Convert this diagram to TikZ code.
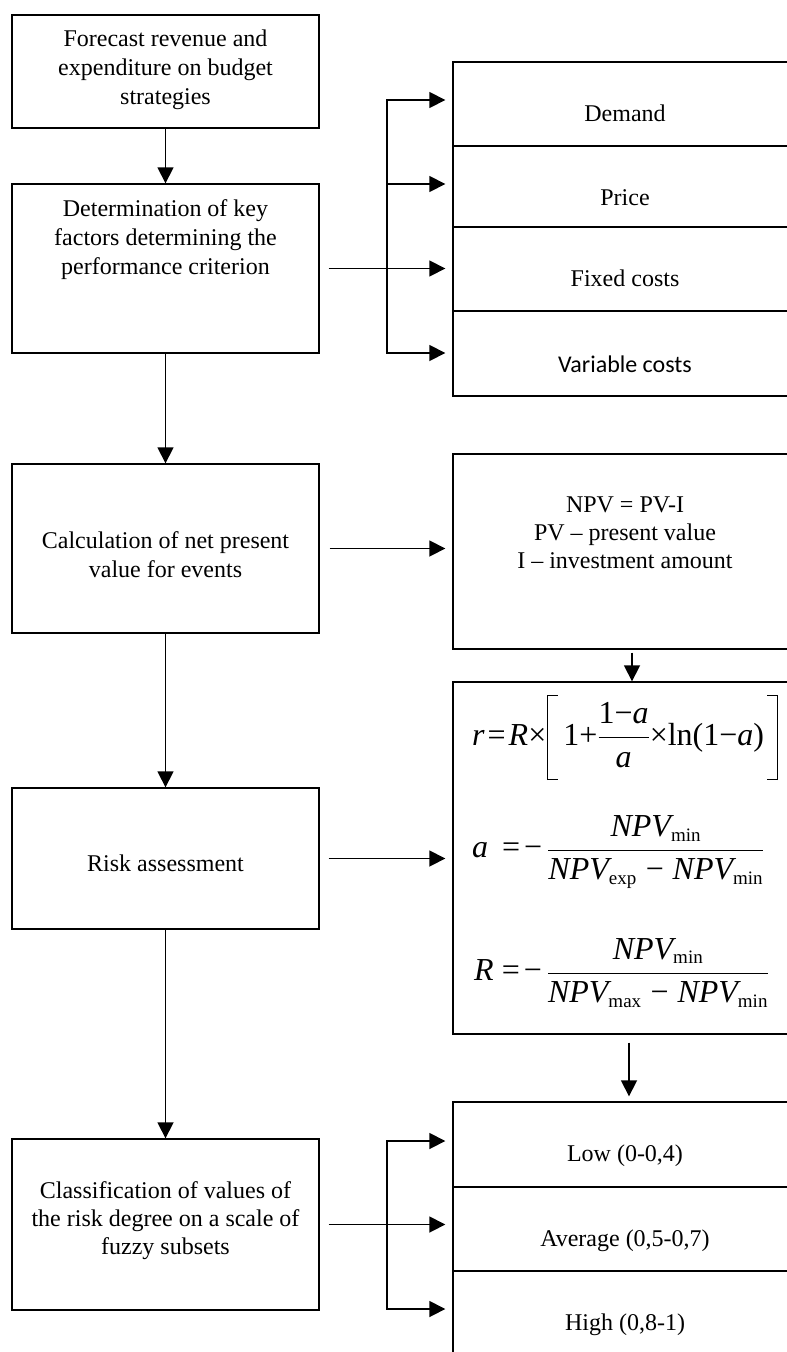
\RequirePackage{fix-cm}
\documentclass[tikz,border=0pt]{standalone}
\usepackage{fontspec}
\setmainfont{Liberation Serif}
\newfontfamily\calibri{Carlito}
\usetikzlibrary{arrows.meta}
\newcommand{\mi}[1]{\mbox{\itshape #1}}
\newcommand{\mr}[1]{\mbox{#1}}
\newcommand{\sbt}[1]{\mbox{\fontsize{19}{19}\selectfont #1}}
\newcommand{\Mi}{\mathbin{\mr{−}}}
\newcommand{\lbrk}{\vcenter{\hbox{\rule{1.2pt}{85pt}\kern-1.2pt\raisebox{83.8pt}{\rule{11pt}{1.2pt}}\kern-11pt\rule{11pt}{1.2pt}}}}
\newcommand{\rbrk}{\vcenter{\hbox{\rule{11pt}{1.2pt}\kern-11pt\raisebox{83.8pt}{\rule{11pt}{1.2pt}}\kern-1.2pt\rule{1.2pt}{85pt}}}}
\begin{document}
\begin{tikzpicture}[x=1pt,y=-1pt,
  lw/.style={line width=1.4pt},
  cw/.style={line width=1.7pt},
  box/.style={draw, lw, inner sep=0pt, minimum width=307pt},
  rbox/.style={draw, lw, inner sep=0pt, minimum width=344pt},
  txt/.style={align=center, inner sep=0pt, font=\fontsize{24}{29}\selectfont},
  txtb/.style={inner sep=0pt, anchor=base, font=\fontsize{24}{29}\selectfont},
  fml/.style={inner sep=0pt, anchor=west, font=\fontsize{32}{38}\selectfont},
  arr/.style={cw, -{Triangle[length=16pt,width=16pt]}},
]
\useasboundingbox (0,0) rectangle (787,1352);
\clip (0,0) rectangle (787,1352);

% left column
\node[box, minimum height=113pt] (b1) at (165.5,71.5) {};
\node[box, minimum height=169pt] (b2) at (165.5,268.5) {};
\node[box, minimum height=169pt] (b3) at (165.5,548.5) {};
\node[box, minimum height=141pt] (b4) at (165.5,858.5) {};
\node[box, minimum height=171pt] (b5) at (165.5,1224.5) {};

\node[txt] (t1) at (165.5,70) {Forecast revenue and\\expenditure on budget\\strategies};
\node[txt] (t2) at (165.5,239.5) {Determination of key\\factors determining the\\performance criterion};
\node[txt] (t3) at (165.5,554.5) {Calculation of net present\\value for events};
\node[txtb] (t4) at (165.5,871.5) {Risk assessment};
\node[txt, font=\fontsize{24}{28}\selectfont] (t5) at (165.5,1220.5) {Classification of values of\\the risk degree on a scale of\\fuzzy subsets};

% right column: factors
\node[rbox, minimum height=84pt] (demand) at (625,104) {};
\node[rbox, minimum height=81pt] (price) at (625,186.5) {};
\node[rbox, minimum height=84pt] (fixed) at (625,269) {};
\node[rbox, minimum height=85pt] (variable) at (625,353.5) {};
\node[txtb] (tdemand) at (625,121) {Demand};
\node[txtb] (tprice) at (625,205) {Price};
\node[txtb] (tfixed) at (625,286) {Fixed costs};
\node[txtb, font=\fontsize{24}{29}\calibri] (tvariable) at (625,372) {Variable costs};

% NPV box
\node[rbox, minimum height=195pt] (npv) at (625,551.5) {};
\node[txt, font=\fontsize{24}{28}\selectfont] (tnpv) at (625,532.5) {NPV = PV-I\\PV – present value\\I – investment amount};

% formula box
\node[rbox, minimum height=352pt] (form) at (625,858) {};
\node[fml] (f1) at (472,737.5) {$\displaystyle\mi{r}\kern3pt\mr{=}\kern3pt\mi{R}\mr{×}\kern1pt\lbrk\kern5pt\mr{1}\mr{+}{\frac{\mr{1}\mr{−}\mi{a}}{\mi{a}}}\mr{×}\mr{ln}\mr{(1}\mr{−}\mi{a}\mr{)}\kern3pt\rbrk$};
\node[fml] (f2) at (472,852) {$\medmuskip=5mu\displaystyle\mi{a}\kern14pt\mr{=}\kern4pt\mr{−}\kern5pt{\frac{\mi{NPV}_{\sbt{min}}}{\mi{NPV}_{\sbt{exp}}\Mi\mi{NPV}_{\sbt{min}}}}$};
\node[fml] (f3) at (474,973) {$\medmuskip=5mu\displaystyle\mi{R}\kern8pt\mr{=}\kern4pt\mr{−}\kern5pt{\frac{\mi{NPV}_{\sbt{min}}}{\mi{NPV}_{\sbt{max}}\Mi\mi{NPV}_{\sbt{min}}}}$};

% risk classes
\node[rbox, minimum height=85pt] (low) at (625,1144.5) {};
\node[rbox, minimum height=84pt] (avg) at (625,1229) {};
\node[rbox, minimum height=85pt] (high) at (625,1313.5) {};
\node[txtb] (tlow) at (625,1161) {Low (0-0,4)};
\node[txtb] (tavg) at (625,1246) {Average (0,5-0,7)};
\node[txtb] (thigh) at (625,1330) {High (0,8-1)};

% vertical flow
\draw[arr] (b1.south) -- (b2.north);
\draw[arr] (b2.south) -- (b3.north);
\draw[arr] (b3.south) -- (b4.north);
\draw[arr] (b4.south) -- (b5.north);

% bracket 1
\coordinate (k1a) at (387,100);
\coordinate (k1b) at (387,184);
\coordinate (k1c) at (387,268.5);
\coordinate (k1d) at (387,353);
\draw[cw, shorten <=9pt] (b2.east) -- (k1c);
\draw[arr, shorten >=7pt] (k1c) -- (k1a) -- (k1a -| demand.west);
\draw[arr, shorten >=7pt] (k1c) -- (k1d) -- (k1d -| variable.west);
\draw[arr, shorten >=7pt] (k1b) -- (k1b -| price.west);
\draw[arr, shorten >=7pt] (k1c) -- (k1c -| fixed.west);

% to NPV and formulas
\draw[arr, shorten <=10pt, shorten >=7pt] (b3.east) -- (b3.east -| npv.west);
\draw[arr, shorten <=9pt, shorten >=7pt] (b4.east) -- (b4.east -| form.west);
\draw[arr, shorten <=3pt] ([xshift=7pt]npv.south) -- ([xshift=7pt]form.north);
\draw[arr, shorten <=8pt, shorten >=5pt] ([xshift=4pt]form.south) -- ([xshift=4pt]low.north);

% bracket 2
\coordinate (k2a) at (387,1141);
\coordinate (k2b) at (387,1224.5);
\coordinate (k2c) at (387,1309);
\draw[cw, shorten <=9pt] (b5.east) -- (k2b);
\draw[arr, shorten >=7pt] (k2b) -- (k2a) -- (k2a -| low.west);
\draw[arr, shorten >=7pt] (k2b) -- (k2c) -- (k2c -| high.west);
\draw[arr, shorten >=7pt] (k2b) -- (k2b -| avg.west);
\end{tikzpicture}
\end{document}
